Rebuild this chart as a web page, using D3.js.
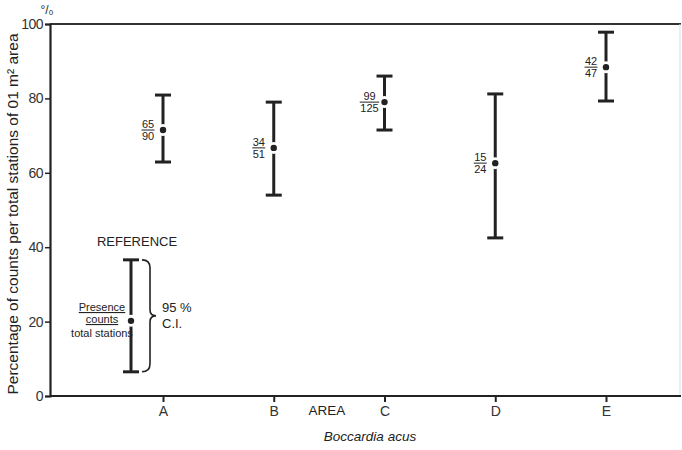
<!DOCTYPE html>
<html><head><meta charset="utf-8">
<script src="https://cdn.jsdelivr.net/npm/d3@7/dist/d3.min.js"></script>
<style>body{margin:0;background:#fff}svg{display:block}text{font-family:"Liberation Sans",Arial,sans-serif;fill:#222}</style>
</head><body><div id="chart"></div>
<script>
const areas = ["A","B","C","D","E"];
const means = [71.5, 66.7, 79.0, 62.6, 88.4];
const upper = [80.9, 79.0, 86.0, 81.2, 97.8];
const lower = [62.9, 54.0, 71.5, 42.5, 79.3];
const presence = ["65","34","99","15","42"];
const totals = ["90","51","125","24","47"];
const yTicks = [0,20,40,60,80,100];
const refValues = {mean:20.2, upper:36.6, lower:6.5};

const W=682,H=450;
const svg=d3.select("#chart").append("svg").attr("width",W).attr("height",H);
const xa=d3.scalePoint().domain(areas).range([163,606]);
const y=d3.scaleLinear().domain([0,100]).range([396,24]);

// frame
svg.append("line").attr("x1",50).attr("x2",681).attr("y1",y(100)).attr("y2",y(100)).attr("stroke","#333").attr("stroke-width",2.2);
svg.append("line").attr("x1",680).attr("x2",680).attr("y1",y(100)).attr("y2",y(0)).attr("stroke","#ddd").attr("stroke-width",1);

const yAxis=svg.append("g").attr("transform","translate(50,0)").call(d3.axisLeft(y).tickValues(yTicks).tickSize(5).tickPadding(2));
yAxis.select(".domain").attr("stroke","#222").attr("stroke-width",2.2);
yAxis.selectAll(".tick line").attr("stroke","#222").attr("stroke-width",1.5);
yAxis.selectAll("text").attr("font-size",14).style("fill","#333").attr("font-family","Liberation Sans, Arial").attr("letter-spacing",-0.5);

const xAxis=svg.append("g").attr("transform",`translate(0,${y(0)})`).call(d3.axisBottom(xa).tickSize(6).tickPadding(4));
xAxis.select(".domain").remove();
svg.append("line").attr("x1",50).attr("x2",681).attr("y1",y(0)).attr("y2",y(0)).attr("stroke","#222").attr("stroke-width",2.2);
xAxis.selectAll(".tick line").attr("stroke","#222").attr("stroke-width",2);
xAxis.selectAll("text").attr("font-size",14).style("fill","#333");

svg.append("text").attr("x",47).attr("y",14).attr("font-size",12).attr("text-anchor","middle").text("°/₀");
svg.append("text").attr("transform","translate(18,214) rotate(-90)").attr("text-anchor","middle").attr("font-size",15.5).text("Percentage of counts per total stations of 01 m² area");
svg.append("text").attr("x",327).attr("y",415).attr("text-anchor","middle").attr("font-size",13.5).text("AREA");
svg.append("text").attr("x",370).attr("y",441).attr("text-anchor","middle").attr("font-size",13.5).attr("font-style","italic").text("Boccardia acus");

function errBar(cx,m,u,l){
  const g=svg.append("g");
  g.append("line").attr("x1",cx).attr("x2",cx).attr("y1",y(u)).attr("y2",y(l)).attr("stroke","#222").attr("stroke-width",3);
  [u,l].forEach(v=>g.append("line").attr("x1",cx-8).attr("x2",cx+8).attr("y1",y(v)).attr("y2",y(v)).attr("stroke","#222").attr("stroke-width",3));
  g.append("circle").attr("cx",cx).attr("cy",y(m)).attr("r",6).attr("fill","#fff");
  g.append("circle").attr("cx",cx).attr("cy",y(m)).attr("r",3.2).attr("fill","#222");
  return g;
}
areas.forEach((a,i)=>{
  const cx=xa(a);
  errBar(cx,means[i],upper[i],lower[i]);
  const fx=cx-15, fy=y(means[i]);
  svg.append("text").attr("x",fx).attr("y",fy-2).attr("text-anchor","middle").attr("font-size",11).text(presence[i]);
  svg.append("text").attr("x",fx).attr("y",fy+10).attr("text-anchor","middle").attr("font-size",11).text(totals[i]);
  const wdt=totals[i].length*6.5;
  svg.append("line").attr("x1",fx-wdt/2).attr("x2",fx+wdt/2).attr("y1",fy).attr("y2",fy).attr("stroke","#222").attr("stroke-width",1);
});

// reference legend
const rx=131;
errBar(rx,refValues.mean,refValues.upper,refValues.lower);
svg.append("text").attr("x",137).attr("y",246).attr("text-anchor","middle").attr("font-size",13).text("REFERENCE");
[["Presence",311,true],["counts",323,true],["total stations",337,false]].forEach(([t,yy,u])=>{
  svg.append("text").attr("x",102).attr("y",yy).attr("text-anchor","middle").attr("font-size",11).attr("text-decoration",u?"underline":null).text(t);
});
const yt=y(refValues.upper), yb=y(refValues.lower), ym=(yt+yb)/2;
svg.append("path").attr("d",`M142,${yt} Q150,${yt} 150,${yt+8} L150,${ym-6} Q150,${ym} 156,${ym} Q150,${ym} 150,${ym+6} L150,${yb-8} Q150,${yb} 142,${yb}`).attr("fill","none").attr("stroke","#222").attr("stroke-width",1.6);
svg.append("text").attr("x",162).attr("y",312).attr("font-size",13).text("95 %");
svg.append("text").attr("x",162).attr("y",328).attr("font-size",13).text("C.I.");
</script></body></html>
